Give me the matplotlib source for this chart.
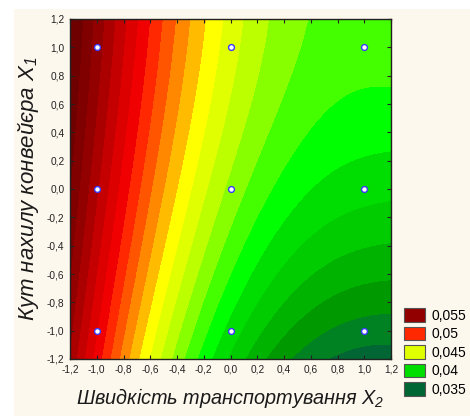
import matplotlib
matplotlib.use("Agg")
import matplotlib.pyplot as plt
import numpy as np
from matplotlib.colors import ListedColormap, BoundaryNorm
from matplotlib.patches import Patch, Rectangle

plt.rcParams["font.family"] = ["Liberation Sans", "DejaVu Sans"]
plt.rcParams["mathtext.fontset"] = "custom"
plt.rcParams["mathtext.it"] = "Liberation Sans:italic"
plt.rcParams["mathtext.rm"] = "Liberation Sans:italic"

# точки плану експерименту (кодовані рівні)
x1_levels = [-1.0, 0.0, 1.0]   # кут нахилу конвейєра
x2_levels = [-1.0, 0.0, 1.0]   # швидкість транспортування

# значення поверхні відгуку, зчитані з графіка у вузлах сітки
grid_x1 = [-1.2, 0.0, 1.2]
grid_x2 = [-1.2, -0.6, 0.0, 0.6, 1.2]
surf_x1_low = [0.0543, 0.0454, 0.0393, 0.0359, 0.0350]
surf_x1_mid = [0.0565, 0.0486, 0.0432, 0.0405, 0.03975]
surf_x1_high = [0.0577, 0.05045, 0.0451, 0.04245, 0.0422]

# рівні ізоліній та їх кольори (від 0,035 до 0,057)
band_levels = [0.035, 0.036, 0.037, 0.038, 0.039, 0.040, 0.041, 0.042,
               0.043, 0.044, 0.045, 0.046, 0.047, 0.048, 0.049, 0.050,
               0.051, 0.052, 0.053, 0.054, 0.055, 0.056, 0.057]
band_colors = ["#006633", "#008222", "#009a00", "#00b300", "#00cc00",
               "#00dd00", "#00ff00", "#44ff00", "#88ff00", "#bbff00",
               "#e0ff00", "#ffff00", "#ffbb00", "#ff8800", "#ff5500",
               "#ff2800", "#f00000", "#dd0000", "#c40000", "#aa0000",
               "#930000", "#800000", "#6e0000"]

legend_values = [0.055, 0.05, 0.045, 0.04, 0.035]
legend_labels = ["0,055", "0,05", "0,045", "0,04", "0,035"]


def lagrange_basis(nodes, t):
    nodes = np.asarray(nodes)
    t = np.asarray(t)
    rows = []
    for i, ni in enumerate(nodes):
        b = np.ones_like(t)
        for j, nj in enumerate(nodes):
            if j != i:
                b = b * (t - nj) / (ni - nj)
        rows.append(b)
    return np.stack(rows)


surf = np.array([surf_x1_low, surf_x1_mid, surf_x1_high])
g = np.linspace(-1.2, 1.2, 401)
Z = lagrange_basis(grid_x1, g).T @ surf @ lagrange_basis(grid_x2, g)
X2, X1 = np.meshgrid(g, g)

# межі між смугами
bounds = [0.0] + [v + 0.0005 for v in band_levels[:-1]] + [1.0]
cmap = ListedColormap(band_colors)
norm = BoundaryNorm(bounds, cmap.N)

fig = plt.figure(figsize=(4.7, 4.16), dpi=100, facecolor="white")
fig.patches.append(Rectangle((14 / 470, 0), 1, 407 / 416, transform=fig.transFigure,
                             facecolor="#fdf8ee", edgecolor="none", zorder=-10))

ax = fig.add_axes([70 / 470, 57 / 416, 321 / 470, 340 / 416])
ax.contourf(X2, X1, Z, levels=bounds, cmap=cmap, norm=norm)

px2, px1 = np.meshgrid(x2_levels, x1_levels)
ax.plot(px2.ravel(), px1.ravel(), "o", ms=4.2, mfc="white", mec="#3a3aff", mew=1.0)

ticks = np.round(np.arange(-1.2, 1.21, 0.2), 1) + 0.0
tick_lbl = [f"{t:.1f}".replace(".", ",").replace("-0,0", "0,0") for t in ticks]
ax.set_xlim(-1.2, 1.2)
ax.set_ylim(-1.2, 1.2)
ax.set_xticks(ticks)
ax.set_xticklabels(tick_lbl)
ax.set_yticks(ticks)
ax.set_yticklabels(tick_lbl)
ax.tick_params(direction="in", top=True, right=True, length=3, width=0.8,
               labelsize=7.3, pad=4, colors="#222222")
for sp in ax.spines.values():
    sp.set_linewidth(1.0)
    sp.set_color("#222222")

ax.set_xlabel("Швидкість транспортування $X_2$", fontsize=14.3, fontstyle="italic",
              color="#1a1a1a", labelpad=8)
ax.set_ylabel("Кут нахилу конвейєра $X_1$", fontsize=16, fontstyle="italic",
              color="#1a1a1a", labelpad=4)

handles = [Patch(facecolor=band_colors[band_levels.index(v)], edgecolor="#555555",
                 linewidth=0.8) for v in legend_values]
fig.legend(handles, legend_labels, loc="upper left", bbox_to_anchor=(393 / 470, 1 - 297 / 416),
           frameon=False, fontsize=10, handlelength=1.5, handleheight=1.15,
           labelspacing=0.28, handletextpad=0.45, borderpad=0.3)

fig.savefig("out.png", dpi=100, facecolor=fig.get_facecolor())
plt.close(fig)
